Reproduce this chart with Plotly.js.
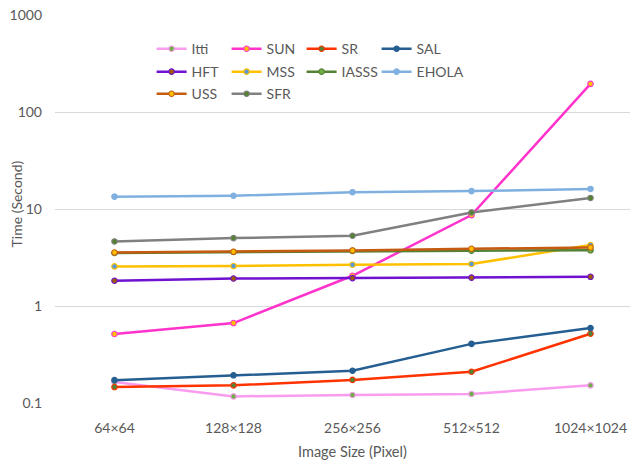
<!DOCTYPE html>
<html>
<head>
<meta charset="utf-8">
<script src="https://cdn.plot.ly/plotly-3.0.1.min.js"></script>
<style>
  html, body { margin: 0; padding: 0; background: #ffffff; }
  #chart { width: 630px; height: 461px; }
</style>
</head>
<body>
<div id="chart"></div>
<script>
// Image sizes on the category axis
const sizes = ["64×64", "128×128", "256×256", "512×512", "1024×1024"];

// Run time (seconds) of each method per image size
const itti  = [0.165, 0.117, 0.121, 0.124, 0.152];
const sun   = [0.514, 0.667, 2.05, 8.65, 195];
const sr    = [0.146, 0.152, 0.173, 0.21, 0.517];
const sal   = [0.172, 0.193, 0.215, 0.407, 0.592];
const hft   = [1.82, 1.92, 1.94, 1.96, 2.0];
const mss   = [2.56, 2.58, 2.66, 2.71, 4.25];
const iasss = [3.52, 3.6, 3.7, 3.72, 3.75];
const ehola = [13.4, 13.7, 14.9, 15.3, 16.1];
const uss   = [3.56, 3.62, 3.74, 3.89, 4.01];
const sfr   = [4.63, 5.01, 5.3, 9.2, 13.0];

// Log-axis ticks
const yTickVals = [0.1, 1, 10, 100, 1000];
const yTickText = ["0.1", "1", "10", "100", "1000"];

const FONT = "Lato, 'Open Sans', sans-serif";
const GREY = "#595959";

// lastInRow widens the final legend entry of a row so its label is not clipped
function series(name, y, lineColor, markerFill, markerLine, legendId, lastInRow) {
  return {
    type: "scatter",
    mode: "lines+markers",
    name: name,
    x: sizes,
    y: y,
    legend: legendId,
    legendwidth: lastInRow ? 60 : 30,
    line: { color: lineColor, width: 2.5 },
    marker: { size: 5.5, color: markerFill, line: { color: markerLine, width: 1.1 } }
  };
}

const traces = [
  series("Itti",  itti,  "#F99CF0", "#70AD47", "#F99CF0", "legend",  false),
  series("SUN",   sun,   "#FF33CC", "#FFC000", "#FF33CC", "legend",  false),
  series("SR",    sr,    "#FF3300", "#548235", "#FF3300", "legend",  false),
  series("SAL",   sal,   "#255E91", "#255E91", "#255E91", "legend",  true),
  series("HFT",   hft,   "#7010D0", "#9C5C00", "#7010D0", "legend2", false),
  series("MSS",   mss,   "#FFC000", "#5B9BD5", "#FFC000", "legend2", false),
  series("IASSS", iasss, "#548235", "#70AD47", "#548235", "legend2", false),
  series("EHOLA", ehola, "#7FB0E0", "#7FB0E0", "#7FB0E0", "legend2", true),
  series("USS",   uss,   "#C55A11", "#FFC000", "#C55A11", "legend3", false),
  series("SFR",   sfr,   "#808080", "#548235", "#808080", "legend3", true)
];

function legendRow(yPos) {
  return {
    orientation: "h",
    x: 0.168, xanchor: "left",
    y: yPos, yanchor: "middle",
    bgcolor: "rgba(0,0,0,0)",
    font: { family: FONT, size: 14, color: GREY },
    traceorder: "normal"
  };
}

const layout = {
  width: 630,
  height: 461,
  margin: { l: 55, r: 0, t: 15, b: 58 },
  paper_bgcolor: "#ffffff",
  plot_bgcolor: "#ffffff",
  font: { family: FONT, size: 14, color: GREY },
  showlegend: true,
  legend: legendRow(0.912),
  legend2: legendRow(0.853),
  legend3: legendRow(0.796),
  xaxis: {
    type: "category",
    range: [-0.5, 4.332],
    showgrid: false,
    zeroline: false,
    showline: false,
    ticks: "",
    ticklabelstandoff: 15,
    tickfont: { family: FONT, size: 14, color: GREY }
  },
  yaxis: {
    type: "log",
    range: [-1, 3],
    tickvals: yTickVals,
    ticktext: yTickText,
    showgrid: true,
    gridcolor: "#D9D9D9",
    gridwidth: 1,
    zeroline: false,
    showline: false,
    ticks: "",
    ticklabelstandoff: 12,
    tickfont: { family: FONT, size: 14, color: GREY }
  },
  annotations: [
    {
      // x-axis title, centred under the full category span
      text: "Image Size (Pixel)",
      xref: "paper", yref: "paper",
      x: 0.518, y: -0.126,
      xanchor: "center", yanchor: "middle",
      showarrow: false,
      font: { family: FONT, size: 14.5, color: GREY }
    },
    {
      // y-axis title, tucked in beside the tick labels
      text: "Time (Second)",
      xref: "paper", yref: "paper",
      x: -0.067, y: 0.513,
      xanchor: "center", yanchor: "middle",
      textangle: -90,
      showarrow: false,
      font: { family: FONT, size: 14, color: GREY }
    }
  ]
};

Plotly.newPlot("chart", traces, layout, { staticPlot: true, displayModeBar: false });
</script>
</body>
</html>
